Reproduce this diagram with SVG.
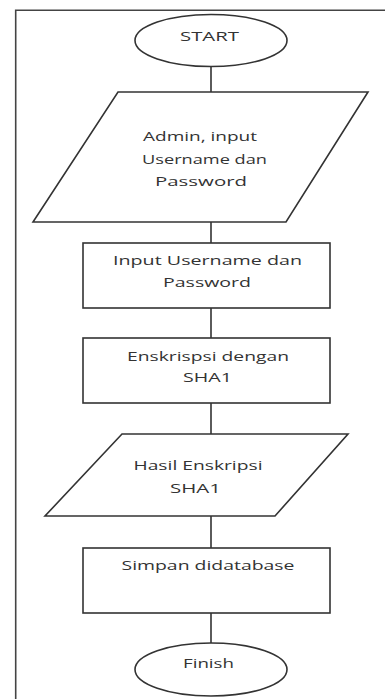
<svg xmlns="http://www.w3.org/2000/svg" width="385" height="699" viewBox="0 0 385 699">
<style>
.s{fill:#fff;stroke:#333;stroke-width:1.6}
.c{stroke:#333;stroke-width:1.6;fill:none}
.f{stroke:#444;stroke-width:1.6;fill:none}
text{font-family:"Open Sans","DejaVu Sans",sans-serif;font-size:13.5px;fill:#333;text-anchor:middle}
</style>
<rect width="385" height="699" fill="#fff"/>
<path class="f" d="M15.7 699 V10.3 H385"/>
<g id="connectors">
<line class="c" x1="211" y1="66" x2="211" y2="92"/>
<line class="c" x1="211" y1="222" x2="211" y2="243"/>
<line class="c" x1="211" y1="308" x2="211" y2="338"/>
<line class="c" x1="211" y1="403" x2="211" y2="434"/>
<line class="c" x1="211" y1="516" x2="211" y2="548"/>
<line class="c" x1="211" y1="613" x2="211" y2="643"/>
</g>
<g id="start">
<ellipse class="s" cx="211" cy="40.5" rx="76" ry="26"/>
<text x="209.5" y="41" textLength="59" lengthAdjust="spacingAndGlyphs">START</text>
</g>
<g id="input1">
<polygon class="s" points="118,92 368,92 286,222 33,222"/>
<text x="200" y="141" textLength="114" lengthAdjust="spacingAndGlyphs">Admin, input</text>
<text x="204.5" y="164" textLength="125" lengthAdjust="spacingAndGlyphs">Username dan</text>
<text x="201" y="186" textLength="92" lengthAdjust="spacingAndGlyphs">Password</text>
</g>
<g id="process1">
<rect class="s" x="83" y="243" width="247" height="65"/>
<text x="207.5" y="265" textLength="189" lengthAdjust="spacingAndGlyphs">Input Username dan</text>
<text x="207" y="287" textLength="88" lengthAdjust="spacingAndGlyphs">Password</text>
</g>
<g id="process2">
<rect class="s" x="83" y="338" width="247" height="65"/>
<text x="208" y="361" textLength="162" lengthAdjust="spacingAndGlyphs">Enskrispsi dengan</text>
<text x="207.5" y="382" textLength="49" lengthAdjust="spacingAndGlyphs">SHA1</text>
</g>
<g id="output1">
<polygon class="s" points="122,434 348,434 275,516 45,516"/>
<text x="198" y="470" textLength="129" lengthAdjust="spacingAndGlyphs">Hasil Enskripsi</text>
<text x="195.5" y="493" textLength="51" lengthAdjust="spacingAndGlyphs">SHA1</text>
</g>
<g id="process3">
<rect class="s" x="83" y="548" width="247" height="65"/>
<text x="208" y="570" textLength="173" lengthAdjust="spacingAndGlyphs">Simpan didatabase</text>
</g>
<g id="finish">
<ellipse class="s" cx="211" cy="669.5" rx="76" ry="26.5"/>
<text x="208.5" y="668" textLength="51" lengthAdjust="spacingAndGlyphs">Finish</text>
</g>
</svg>
